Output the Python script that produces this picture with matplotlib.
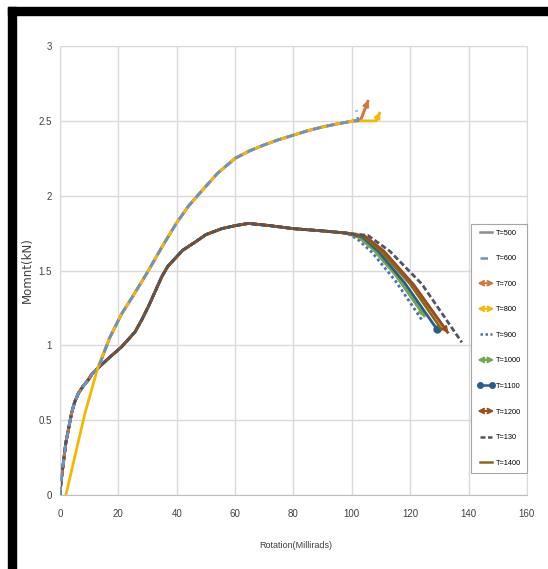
import matplotlib
matplotlib.use('Agg')
import matplotlib.pyplot as plt
from matplotlib.lines import Line2D
from matplotlib.patches import Rectangle, FancyArrowPatch
from matplotlib.legend_handler import HandlerBase

# shared rising part of the lower group (T=900..1400)
rise_x = [0, 0.3, 2, 4, 5, 6.3, 8, 9.7, 11, 13.1, 17, 21.1, 25.7, 28, 30.3, 34.9, 37, 39.4, 42, 46.3, 50, 55.4, 60, 64.6, 72, 80, 90, 98.3]
rise_y = [0, 0.08, 0.35, 0.55, 0.62, 0.68, 0.73, 0.77, 0.81, 0.85, 0.92, 0.99, 1.09, 1.17, 1.26, 1.46, 1.53, 1.58, 1.635, 1.69, 1.74, 1.78, 1.80, 1.815, 1.80, 1.78, 1.765, 1.75]

# descending tails of the lower group
tail_900_x = [102, 107, 115, 124]
tail_900_y = [1.71, 1.62, 1.43, 1.17]
tail_1000_x = [102.5, 107.4, 115.4, 125.1]
tail_1000_y = [1.72, 1.64, 1.46, 1.19]
tail_1100_x = [103.5, 109, 118, 129.1]
tail_1100_y = [1.725, 1.63, 1.42, 1.11]
tail_1200_x = [104.5, 111, 121, 133.1]
tail_1200_y = [1.73, 1.63, 1.41, 1.08]
tail_130_x = [105.5, 113, 124, 137.7]
tail_130_y = [1.735, 1.63, 1.41, 1.02]
tail_1400_x = [104, 110, 120, 131]
tail_1400_y = [1.73, 1.63, 1.41, 1.10]

# upper group (T=500..800)
upper_x = [13.1, 17, 21.1, 25, 30, 35, 40, 44, 48, 54, 60, 65, 70, 75, 80, 85, 90, 95, 100.6]
upper_y = [0.86, 1.05, 1.21, 1.33, 1.49, 1.66, 1.82, 1.93, 2.02, 2.15, 2.25, 2.30, 2.34, 2.375, 2.405, 2.435, 2.46, 2.48, 2.50]
start_800_x = [2, 5, 8.6]
start_800_y = [0, 0.25, 0.55]
end_500_x, end_500_y = [101.5], [2.50]
end_600_x, end_600_y = [102.2, 101.6], [2.50, 2.57]
end_700_x, end_700_y = [103.1, 105.7], [2.51, 2.64]
end_800_x, end_800_y = [108.3, 109.7], [2.50, 2.56]

labels = ['T=500', 'T=600', 'T=700', 'T=800', 'T=900', 'T=1000', 'T=1100', 'T=1200', 'T=130', 'T=1400']
colors = ['#8c8c8c', '#6f93c0', '#d0783c', '#f5b800', '#4a6fb8', '#72a94c', '#2a5d8e', '#9a4e1c', '#4f5564', '#8a6a16']

low_x = [v for v in rise_x if v <= 13.1]
low_y = rise_y[:len(low_x)]

series = {
    'T=500': (low_x + upper_x[1:] + end_500_x, low_y + upper_y[1:] + end_500_y),
    'T=600': (low_x + upper_x[1:] + end_600_x, low_y + upper_y[1:] + end_600_y),
    'T=700': (low_x + upper_x[1:] + end_700_x, low_y + upper_y[1:] + end_700_y),
    'T=800': (start_800_x + upper_x + end_800_x, start_800_y + upper_y + end_800_y),
    'T=900': (rise_x + tail_900_x, rise_y + tail_900_y),
    'T=1000': (rise_x + tail_1000_x, rise_y + tail_1000_y),
    'T=1100': (rise_x + tail_1100_x, rise_y + tail_1100_y),
    'T=1200': (rise_x + tail_1200_x, rise_y + tail_1200_y),
    'T=130': (rise_x + tail_130_x, rise_y + tail_130_y),
    'T=1400': (rise_x + tail_1400_x, rise_y + tail_1400_y),
}
line_styles = {
    'T=600': (0, (3, 2)),
    'T=900': (0, (1, 1)),
    'T=130': (0, (2, 1)),
}
arrow_series = {'T=700': '<->', 'T=800': '<->', 'T=1200': '<->', 'T=1000': '<|-|>'}
zorders = {'T=500': 2.1, 'T=700': 2.2, 'T=800': 2.4, 'T=600': 2.6,
           'T=1400': 2.0, 'T=1200': 2.1, 'T=130': 2.3}

font = 'Liberation Sans'


class ArrowHandler(HandlerBase):
    def __init__(self, style):
        super().__init__()
        self.style = style

    def create_artists(self, legend, orig_handle, xdescent, ydescent, width, height, fontsize, trans):
        y = height / 2 - ydescent
        a = FancyArrowPatch((-xdescent, y), (width - xdescent, y), arrowstyle=self.style,
                            color=orig_handle.get_color(), lw=1.5, mutation_scale=8,
                            shrinkA=0, shrinkB=0, transform=trans)
        return [a]


fig = plt.figure(figsize=(5.48, 5.69), dpi=100)
ax = fig.add_axes([0.1095, 0.130, 0.852, 0.789])

handles = []
handler_map = {}
for lab, c in zip(labels, colors):
    xs, ys = series[lab]
    ls = line_styles.get(lab, '-')
    kw = dict(color=c, lw=2, ls=ls, solid_capstyle='butt', solid_joinstyle='round',
              label=lab, zorder=zorders.get(lab, 2))
    if lab == 'T=1100':
        kw.update(marker='o', markevery=[len(xs) - 1], ms=5)
    ax.plot(xs, ys, **kw)
    if lab in arrow_series:
        ax.annotate('', xy=(xs[-1], ys[-1]), xytext=(xs[-2], ys[-2]),
                    arrowprops=dict(arrowstyle='-|>' if lab == 'T=1000' else '->',
                                    color=c, lw=1.8, mutation_scale=8, shrinkA=0, shrinkB=0),
                    zorder=zorders.get(lab, 2))
    if lab == 'T=1100':
        h = Line2D([], [], color=c, lw=1.8, marker='o', ms=4)
    else:
        h = Line2D([], [], color=c, lw=1.8, ls=ls)
    if lab in arrow_series:
        handler_map[h] = ArrowHandler(arrow_series[lab])
    handles.append(h)

ax.set_xlim(0, 160)
ax.set_ylim(0, 3)
ax.set_xticks(range(0, 161, 20))
ax.set_yticks([0, 0.5, 1, 1.5, 2, 2.5, 3])
ax.set_yticklabels(['0', '0.5', '1', '1.5', '2', '2.5', '3'])
ax.grid(True, color='#d9d9d9', lw=1)
ax.set_axisbelow(True)
for s in ax.spines.values():
    s.set_color('#d9d9d9')
ax.spines['bottom'].set_color('#bfbfbf')
ax.tick_params(axis='x', pad=10)
ax.tick_params(axis='y', pad=6)
ax.tick_params(length=0, labelsize=7, labelcolor='#404040')
for t in ax.get_xticklabels() + ax.get_yticklabels():
    t.set_fontfamily(font)

ax.set_xlabel('Rotation(Millirads)', fontsize=6.5, family=font, color='#404040')
ax.set_ylabel('Momnt(kN)', fontsize=8.5, color='#404040')
ax.xaxis.set_label_coords(0.505, -0.103)
ax.yaxis.set_label_coords(-0.056, 0.5)

leg = ax.legend(handles, labels, handler_map=handler_map, loc='lower right',
                bbox_to_anchor=(1.0, 0.05), borderaxespad=0, numpoints=2,
                prop={'family': font, 'size': 5.3},
                labelspacing=2.5, handlelength=2.3, handletextpad=0.2,
                borderpad=0.8, fancybox=False, framealpha=1)
leg.get_frame().set_edgecolor('#a6a6a6')
leg.get_frame().set_linewidth(0.8)

# black frame of the source image (top and left)
fig.patches.append(Rectangle((8 / 548, 1 - 15 / 569), 1, 8 / 569, transform=fig.transFigure,
                             color='black', zorder=10))
fig.patches.append(Rectangle((8 / 548, 0), 8 / 548, 1 - 7 / 569, transform=fig.transFigure,
                             color='black', zorder=10))

fig.savefig('out.png', dpi=100)
